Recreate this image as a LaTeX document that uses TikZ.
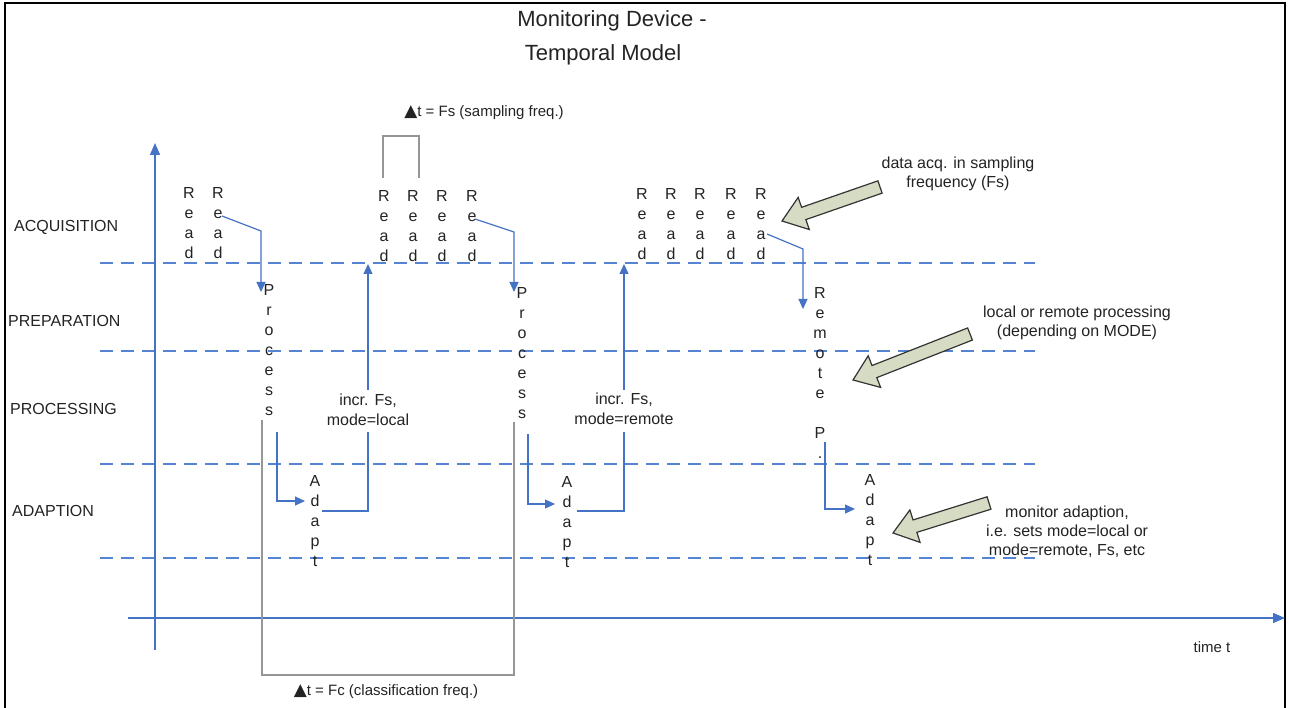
\documentclass[tikz,border=0pt]{standalone}
\usepackage{fontspec}
\setmainfont{Liberation Sans}
\newfontfamily\symf{DejaVu Sans}
\usetikzlibrary{arrows.meta,calc}
\definecolor{lineblue}{RGB}{68,114,196}
\definecolor{dashblue}{RGB}{84,132,210}
\definecolor{calloutfill}{RGB}{214,220,196}
\definecolor{txt}{RGB}{35,35,35}
\definecolor{brk}{RGB}{150,150,150}
\newcommand\blockarrow[3]{%
  \coordinate (#3tip) at (#1);
  \coordinate (#3tail) at (#2);
  \coordinate (#3h) at ($(#3tip)!23pt!(#3tail)$);
  \path[callout] (#3tip)
    -- ($(#3h)!17pt!90:(#3tail)$)
    -- ($(#3h)!6.5pt!90:(#3tail)$)
    -- ($(#3tail)!6.5pt!-90:(#3h)$)
    -- ($(#3tail)!6.5pt!90:(#3h)$)
    -- ($(#3h)!6.5pt!-90:(#3tail)$)
    -- ($(#3h)!17pt!-90:(#3tail)$)
    -- cycle;}
\begin{document}
\begin{tikzpicture}[x=1pt,y=-1pt,
  every node/.style={text=txt,inner sep=0pt},
  vword/.style={align=center,anchor=north,font=\fontsize{16}{20}\selectfont},
  lane/.style={anchor=west,font=\fontsize{16}{20}\selectfont},
  note/.style={align=center,font=\fontsize{16}{19}\selectfont},
  flow/.style={draw=lineblue,line width=1.2pt,-{Triangle[length=10pt,width=9pt]}},
  flowline/.style={draw=lineblue,line width=1.2pt},
  lanesep/.style={draw=dashblue,line width=1.3pt,dash pattern=on 13pt off 8pt},
  axis/.style={draw=lineblue,line width=1.5pt,-{Triangle[length=12pt,width=10pt]}},
  bracket/.style={draw=brk,line width=2pt},
  callout/.style={draw=black!80,fill=calloutfill,line width=1.2pt,line join=miter}
]
\useasboundingbox (0,0) rectangle (1289,708);
\draw[black,line width=2pt] (5,3) rectangle (1285,720);

% title
\node[font=\fontsize{22}{26}\selectfont] (title1) at (612,21) {Monitoring Device -};
\node[font=\fontsize{22}{26}\selectfont] (title2) at (603,55) {Temporal Model};

% lane separators
\foreach \yy/\nm in {263/s1,351/s2,464/s3,558/s4}{
  \coordinate (\nm l) at (100,\yy);
  \coordinate (\nm r) at (1035,\yy);
  \draw[lanesep] (\nm l) -- (\nm r);
}

% lane labels
\node[lane] (lacq) at (14,227) {ACQUISITION};
\node[lane] (lprep) at (8,321) {PREPARATION};
\node[lane] (lproc) at (10,409) {PROCESSING};
\node[lane] (ladap) at (12,511) {ADAPTION};

% axes
\coordinate (yb) at (155,650);
\coordinate (yt) at (155,143);
\coordinate (xl) at (128,618);
\coordinate (xr) at (1285,618);
\draw[axis] (yb) -- (yt);
\draw[axis] (xl) -- (xr);
\node[font=\fontsize{15}{18}\selectfont] (time) at (1212,647) {time t};

% Read columns
\node[vword] (r1a) at (189,187) {R\\e\\a\\d};
\node[vword] (r1b) at (218,187) {R\\e\\a\\d};
\node[vword] (r2a) at (384,190) {R\\e\\a\\d};
\node[vword] (r2b) at (413,190) {R\\e\\a\\d};
\node[vword] (r2c) at (442,190) {R\\e\\a\\d};
\node[vword] (r2d) at (472,190) {R\\e\\a\\d};
\node[vword] (r3a) at (642,188) {R\\e\\a\\d};
\node[vword] (r3b) at (671,188) {R\\e\\a\\d};
\node[vword] (r3c) at (700,188) {R\\e\\a\\d};
\node[vword] (r3d) at (731,188) {R\\e\\a\\d};
\node[vword] (r3e) at (761,188) {R\\e\\a\\d};

% Process / Remote / Adapt columns
\node[vword] (p1) at (269,284) {P\\r\\o\\c\\e\\s\\s};
\node[vword] (p2) at (522,287) {P\\r\\o\\c\\e\\s\\s};
\node[vword] (rp) at (820,287) {R\\e\\m\\o\\t\\e\\\mbox{}\\P\\.};
\node[vword] (a1) at (315,475) {A\\d\\a\\p\\t};
\node[vword] (a2) at (567,476) {A\\d\\a\\p\\t};
\node[vword] (a3) at (870,474) {A\\d\\a\\p\\t};

% adaptation labels
\node[align=center,font=\fontsize{16}{20}\selectfont] (inc1) at (368,410) {incr. Fs,\\mode=local};
\node[align=center,font=\fontsize{16}{20}\selectfont] (inc2) at (624,409) {incr. Fs,\\mode=remote};

% connectors
\coordinate (c1s) at (222,216);
\coordinate (c1k) at (261,231);
\coordinate (c1e) at (261,292);
\draw[flow] (c1s) -- (c1k) -- (c1e);

\coordinate (c2s) at (277,432);
\coordinate (c2e) at (305,501);
\draw[flow] (c2s) |- (c2e);

\coordinate (c3s) at (322,511);
\coordinate (c3m) at (368,432);
\coordinate (c3n) at (368,390);
\coordinate (c3e) at (368,264);
\draw[flowline] (c3s) -| (c3m);
\draw[flow] (c3n) -- (c3e);

\coordinate (c4s) at (475,219);
\coordinate (c4k) at (514,232);
\coordinate (c4e) at (514,292);
\draw[flow] (c4s) -- (c4k) -- (c4e);

\coordinate (c5s) at (528,434);
\coordinate (c5e) at (555,504);
\draw[flow] (c5s) |- (c5e);

\coordinate (c6s) at (577,511);
\coordinate (c6m) at (624,432);
\coordinate (c6n) at (624,390);
\coordinate (c6e) at (624,264);
\draw[flowline] (c6s) -| (c6m);
\draw[flow] (c6n) -- (c6e);

\coordinate (c7s) at (767,234);
\coordinate (c7k) at (803,249);
\coordinate (c7e) at (803,309);
\draw[flow] (c7s) -- (c7k) -- (c7e);

\coordinate (c8s) at (825,442);
\coordinate (c8e) at (855,509);
\draw[flow] (c8s) |- (c8e);

% brackets
\coordinate (fs1) at (383,178);
\coordinate (fs2) at (383,136);
\coordinate (fs3) at (419,136);
\coordinate (fs4) at (419,178);
\draw[bracket] (fs1) -- (fs2) -- (fs3) -- (fs4);
\node[font=\fontsize{15}{18}\selectfont] (fslab) at (484,113) {{\symf\fontsize{17}{18}\selectfont ▲}t = Fs (sampling freq.)};

\coordinate (fc1) at (262,420);
\coordinate (fc2) at (262,675);
\coordinate (fc3) at (514,675);
\coordinate (fc4) at (514,422);
\draw[bracket] (fc1) -- (fc2) -- (fc3) -- (fc4);
\node[font=\fontsize{15}{18}\selectfont] (fclab) at (386,692) {{\symf\fontsize{17}{18}\selectfont ▲}t = Fc (classification freq.)};

% callouts
\blockarrow{782,221}{880,187}{ca}
\blockarrow{853,380}{970,334}{cb}
\blockarrow{893,533}{989,503}{cc}
\node[note] (na) at (958,174) {data acq. in sampling\\frequency (Fs)};
\node[note] (nb) at (1077,323) {local or remote processing\\(depending on MODE)};
\node[note] (nc) at (1067,532) {monitor adaption,\\i.e. sets mode=local or\\mode=remote, Fs, etc};
\end{tikzpicture}
\end{document}
